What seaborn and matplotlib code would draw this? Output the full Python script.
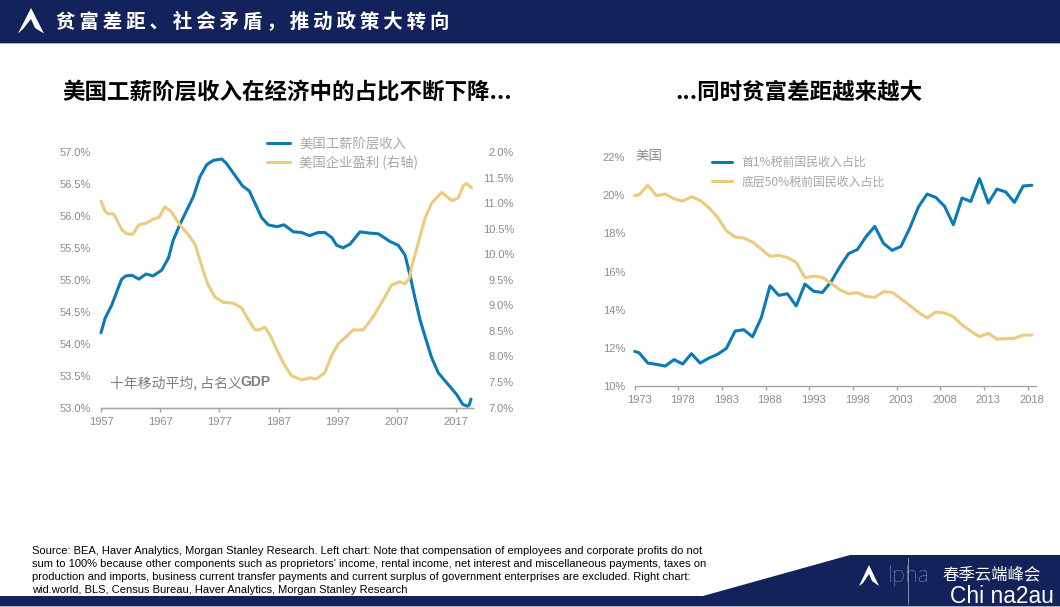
import matplotlib
matplotlib.use("Agg")
import matplotlib.pyplot as plt
from matplotlib.legend_handler import HandlerLine2D
from matplotlib.lines import Line2D
from matplotlib.patches import Polygon, Rectangle
import seaborn as sns

CJK = ['Noto Sans CJK SC', 'Liberation Sans', 'DejaVu Sans']

NAVY = '#14225c'
BLUE = '#0b7ab5'
YELLOW = '#eccb7e'
GREY = '#8c8c8c'
LIGHT = '#a6a6a6'

# left chart
wage_years = [1957, 1957.7, 1958.8, 1959.65, 1960.5, 1961.2, 1962.2, 1963.4, 1964.6, 1965.8,
              1967.25, 1968.4, 1969.2, 1970.3, 1971.5, 1972.6, 1973.7, 1974.85, 1976, 1977.4,
              1978.2, 1979.35, 1980.9, 1982.05, 1983, 1984.15, 1985.25, 1986.7, 1987.9, 1989.5,
              1990.9, 1992.2, 1993.7, 1994.8, 1996, 1996.8, 1997.9, 1999.1, 2000.75, 2002.4,
              2003.85, 2005.8, 2007.2, 2008.35, 2009.2, 2010.05, 2010.9, 2011.75, 2012.85, 2014,
              2015.65, 2017.1, 2018.1, 2018.9, 2019.2, 2019.5]
wage_share = [54.17, 54.40, 54.60, 54.81, 55.01, 55.06, 55.07, 55.01, 55.09, 55.06,
              55.15, 55.34, 55.62, 55.86, 56.09, 56.30, 56.61, 56.80, 56.87, 56.89,
              56.82, 56.67, 56.47, 56.39, 56.20, 55.97, 55.86, 55.83, 55.86, 55.75,
              55.74, 55.69, 55.74, 55.74, 55.66, 55.54, 55.50, 55.56, 55.75, 55.73,
              55.72, 55.60, 55.54, 55.39, 55.07, 54.71, 54.37, 54.11, 53.78, 53.54,
              53.36, 53.20, 53.05, 53.02, 53.04, 53.13]
profit_years = [1957, 1957.7, 1958.2, 1959.1, 1959.65, 1960.5, 1961.3, 1962.35, 1963.45, 1964.7,
                1965.8, 1966.8, 1967.8, 1968.8, 1970.3, 1971.75, 1972.9, 1973.7, 1974.3, 1975.1,
                1976.25, 1977.65, 1979.35, 1980.75, 1981.9, 1983, 1983.7, 1984.7, 1985.55, 1986.7,
                1987.8, 1989.2, 1990.9, 1992.3, 1993.4, 1994.8, 1996, 1997.1, 1998.2, 1999.6,
                2001.3, 2003, 2004.7, 2006.1, 2007.5, 2008.35, 2009.1, 2009.5, 2010.6, 2011.75,
                2012.85, 2014.55, 2016.25, 2017.35, 2018.2, 2018.8, 2019.6]
profit_share = [11.04, 10.84, 10.79, 10.79, 10.68, 10.48, 10.40, 10.39, 10.58, 10.61,
                10.69, 10.72, 10.93, 10.84, 10.58, 10.38, 10.19, 9.89, 9.66, 9.40,
                9.16, 9.06, 9.04, 8.95, 8.72, 8.52, 8.52, 8.57, 8.42, 8.13,
                7.87, 7.62, 7.54, 7.58, 7.56, 7.68, 8.03, 8.25, 8.36, 8.52,
                8.52, 8.78, 9.11, 9.40, 9.46, 9.42, 9.53, 9.76, 10.22, 10.71,
                11.00, 11.21, 11.05, 11.10, 11.34, 11.38, 11.30]
left_ticks = [53.0, 53.5, 54.0, 54.5, 55.0, 55.5, 56.0, 56.5, 57.0]
left_labels = ['53.0%', '53.5%', '54.0%', '54.5%', '55.0%', '55.5%', '56.0%', '56.5%', '57.0%']
right_ticks = [7.0, 7.5, 8.0, 8.5, 9.0, 9.5, 10.0, 10.5, 11.0, 11.5, 12.0]
right_labels = ['7.0%', '7.5%', '8.0%', '8.5%', '9.0%', '9.5%', '10.0%', '10.5%', '11.0%', '11.5%', '2.0%']
left_years = [1957, 1967, 1977, 1987, 1997, 2007, 2017]

# right chart
income_years = [1973] + [1973.5 + i for i in range(46)]
top1 = [11.80, 11.73, 11.19, 11.12, 11.03, 11.37, 11.14, 11.68, 11.19, 11.45,
        11.65, 11.96, 12.87, 12.94, 12.57, 13.57, 15.25, 14.75, 14.83, 14.19,
        15.34, 14.96, 14.90, 15.46, 16.25, 16.94, 17.15, 17.83, 18.37, 17.48,
        17.11, 17.32, 18.27, 19.39, 20.07, 19.89, 19.42, 18.46, 19.86, 19.68,
        20.88, 19.60, 20.33, 20.18, 19.63, 20.49, 20.53]
bottom50 = [19.98, 20.03, 20.54, 19.98, 20.07, 19.82, 19.70, 19.93, 19.74, 19.35,
            18.84, 18.14, 17.81, 17.76, 17.55, 17.18, 16.80, 16.85, 16.73, 16.48,
            15.67, 15.76, 15.69, 15.38, 15.04, 14.83, 14.89, 14.69, 14.64, 14.94,
            14.90, 14.57, 14.22, 13.85, 13.56, 13.87, 13.82, 13.63, 13.19, 12.87,
            12.57, 12.75, 12.45, 12.47, 12.49, 12.66, 12.66]
income_ticks = [10, 12, 14, 16, 18, 20, 22]
income_labels = ['10%', '12%', '14%', '16%', '18%', '20%', '22%']
income_x = [1973, 1978, 1983, 1988, 1993, 1998, 2003, 2008, 2013, 2018]

header = '贫富差距、社会矛盾\uff0c推动政策大转向'
footer = ("Source: BEA, Haver Analytics, Morgan Stanley Research. Left chart: Note that compensation of employees and corporate profits do not\n"
          "sum to 100% because other components such as proprietors' income, rental income, net interest and miscellaneous payments, taxes on\n"
          "production and imports, business current transfer payments and current surplus of government enterprises are excluded. Right chart:\n"
          "wid.world, BLS, Census Bureau, Haver Analytics, Morgan Stanley Research")

W, H = 1060, 607


def fx(x):
    return x / W


def fy(y):
    return 1 - y / H


def pts(points):
    return [(fx(x), fy(y)) for x, y in points]


def label(x, y, s, **kw):
    kw.setdefault('family', CJK)
    kw.setdefault('va', 'center')
    return fig.text(fx(x), fy(y), s, **kw)


def style_axis(ax):
    sns.despine(ax=ax, left=True, right=True, top=True)
    ax.spines['bottom'].set_color(LIGHT)
    ax.spines['bottom'].set_linewidth(1.0)
    ax.grid(False)
    ax.set_xlabel('')
    ax.set_ylabel('')
    ax.patch.set_alpha(0)
    for line in ax.get_lines():
        line.set_clip_on(False)


sns.set_theme(style='white')
plt.rcParams['font.family'] = ['Liberation Sans', 'Noto Sans CJK SC', 'DejaVu Sans']

fig = plt.figure(figsize=(W / 100, H / 100), dpi=100, facecolor='white')

# header / footer furniture
fig.patches.append(Rectangle((0, fy(43)), 1, 43 / H, transform=fig.transFigure, color=NAVY, lw=0))
fig.patches.append(Rectangle((0, fy(44)), 1, 1 / H, transform=fig.transFigure, color='#aab1cc', lw=0))
fig.patches.append(Polygon(pts([(0, 596), (703, 596), (850, 555), (1060, 555), (1060, 607), (0, 607)]),
                           transform=fig.transFigure, color=NAVY, lw=0))
fig.patches.append(Rectangle((0, 0), 1, 1 / H, transform=fig.transFigure, color='#aab1cc', lw=0))
fig.patches.append(Polygon(pts([(31, 8), (44, 33.5), (35, 28), (31, 19), (23, 29), (18, 33.5)]),
                           transform=fig.transFigure, color='white', lw=0))
fig.patches.append(Polygon(pts([(869, 565), (879, 586), (872, 581), (869, 574), (863, 583), (859, 586)]),
                           transform=fig.transFigure, color='white', lw=0))
fig.add_artist(Line2D([fx(908)] * 2, [fy(558), fy(604)], color='white', lw=0.7, alpha=0.5))

label(56, 22, '\u2009'.join(header), color='white', fontsize=14, weight='bold',
      family=['Noto Sans CJK SC', 'DejaVu Sans'])
label(62, 92, '美国工薪阶层收入在经济中的占比不断下降...', color='black', fontsize=16.2, weight='bold')
label(799, 92, '...同时贫富差距越来越大', color='black', fontsize=16.2, weight='bold', ha='center')
label(32, 570.5, footer, color='black', fontsize=8.05, family='Liberation Sans', linespacing=1.35)
label(888, 576, 'lpha', color='white', fontsize=17, family='Lato', weight='light')
label(942, 575, '春季云端峰会', color='white', fontsize=11.8)
label(950, 596.5, 'Chi na2au', color='white', fontsize=16.4, family='Liberation Sans')

# left chart
ax1 = fig.add_axes([fx(101), fy(407.5), 372 / W, 255.5 / H])
ax2 = ax1.twinx()
ax2.set_position(ax1.get_position())
sns.lineplot(x=wage_years, y=wage_share, color=BLUE, linewidth=2.2, ax=ax1, label='美国工薪阶层收入', legend=False)
sns.lineplot(x=profit_years, y=profit_share, color=YELLOW, linewidth=2.2, ax=ax2, label='美国企业盈利 (右轴)', legend=False)
ax1.set_xlim(1957, 2019.84)
ax1.set_ylim(53, 57)
ax2.set_ylim(7, 12)
ax1.set_xticks(left_years, [str(y) for y in left_years])
ax1.set_yticks(left_ticks, left_labels)
ax2.set_yticks(right_ticks, right_labels)
for ax in (ax1, ax2):
    style_axis(ax)
ax1.tick_params(axis='x', length=3, width=1, color=LIGHT, labelcolor=GREY, labelsize=8, pad=3.5, bottom=True)
ax1.tick_params(axis='y', length=0, labelcolor=GREY, labelsize=8, pad=7)
ax2.tick_params(axis='y', length=0, labelcolor=GREY, labelsize=8, pad=29.5)
for t in ax2.get_yticklabels():
    t.set_ha('right')

lines = ax1.get_lines() + ax2.get_lines()
ax2.legend(lines, [l.get_label() for l in lines], loc='upper left', frameon=False,
           bbox_to_anchor=(fx(267), fy(137)), bbox_transform=fig.transFigure,
           borderpad=0, borderaxespad=0, handlelength=1.75, handletextpad=0.68, labelspacing=0.32,
           labelcolor=LIGHT, prop={'family': CJK, 'size': 9.6},
           handler_map={lines[0]: HandlerLine2D(ypad=-0.45)})
label(110.5, 382.5, '十年移动平均, 占名义', color='#7f7f7f', fontsize=10, weight='medium')
label(240, 382.5, 'GDP', color='#7f7f7f', fontsize=10, weight='bold', family='Liberation Sans')

# right chart
ax3 = fig.add_axes([fx(634.7), fy(385.7), (1036 - 634.7) / W, 228.4 / H])
sns.lineplot(x=income_years, y=top1, color=BLUE, linewidth=2.2, ax=ax3, label='首1%税前国民收入占比', legend=False)
sns.lineplot(x=income_years, y=bottom50, color=YELLOW, linewidth=2.2, ax=ax3, label='底层50%税前国民收入占比', legend=False)
ax3.set_xlim(1973, 2018.97)
ax3.set_ylim(10, 22)
ax3.set_yticks(income_ticks, income_labels)
ax3.set_xticks(income_x, [''] * len(income_x))
ax3.set_xticks([y + 0.5 for y in income_x], [str(y) for y in income_x], minor=True)
style_axis(ax3)
ax3.tick_params(axis='x', which='major', length=3, width=1, color=LIGHT, bottom=True)
ax3.tick_params(axis='x', which='minor', length=0, labelcolor=GREY, labelsize=8, pad=6.5, bottom=True)
ax3.tick_params(axis='y', length=0, labelcolor=GREY, labelsize=8, pad=7)
income_lines = ax3.get_lines()
ax3.legend(income_lines, [l.get_label() for l in income_lines], loc='upper left', frameon=False,
           bbox_to_anchor=(fx(712.3), fy(156)), bbox_transform=fig.transFigure,
           borderpad=0, borderaxespad=0, handlelength=1.65, handletextpad=0.8, labelspacing=0.55,
           labelcolor=LIGHT, prop={'family': CJK, 'size': 8.6},
           handler_map={income_lines[0]: HandlerLine2D(ypad=-0.95)})
label(635, 156, '美国', color=GREY, fontsize=9.7)

fig.savefig('out.png', dpi=100, facecolor='white')
